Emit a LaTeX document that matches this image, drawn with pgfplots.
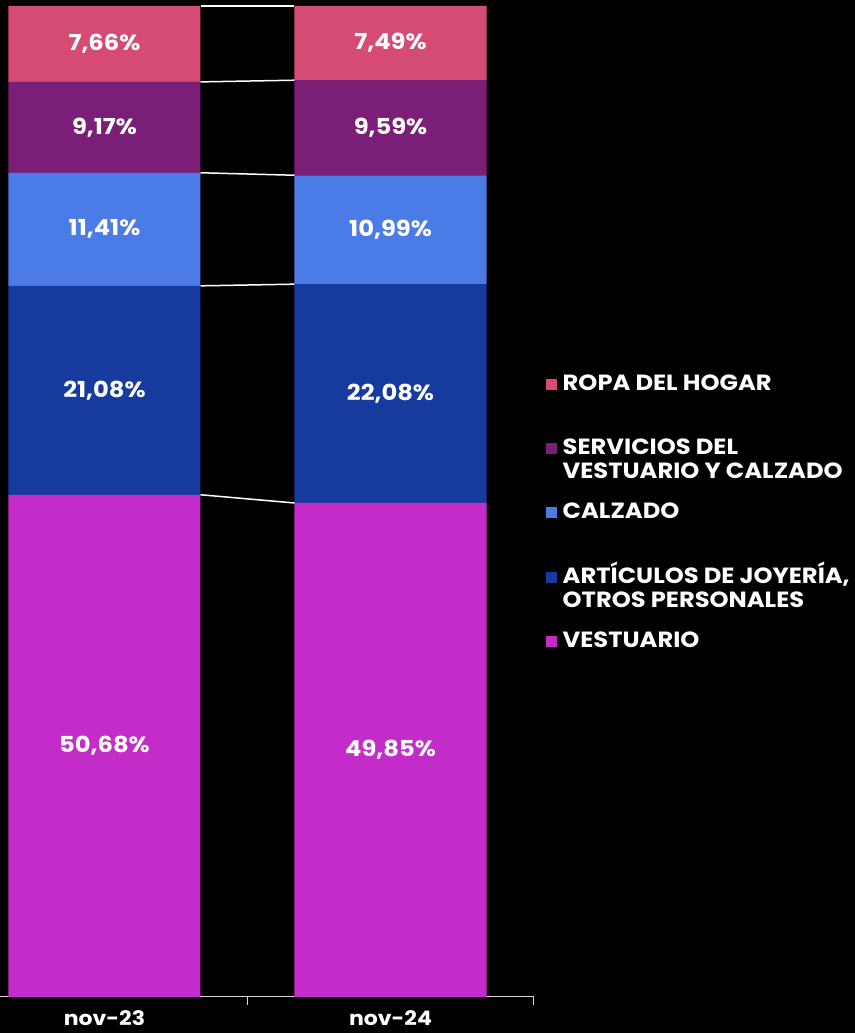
\documentclass[border=0pt]{standalone}
\usepackage{fontspec}
\setmainfont{Poppins}
\newfontfamily\wide{Poppins}[FakeStretch=1.1]
\usepackage{pgfplots}
\pgfplotsset{compat=1.18}
\definecolor{cRopa}{HTML}{D64B73}
\definecolor{cServ}{HTML}{7A1E78}
\definecolor{cCalz}{HTML}{4A7BE6}
\definecolor{cArt}{HTML}{163A9E}
\definecolor{cVest}{HTML}{C42CC9}
\definecolor{axgray}{HTML}{D9D9D9}
\newcommand{\lf}{\wide\bfseries\fontsize{22}{24}\selectfont}
\newcommand{\df}{\wide\bfseries\fontsize{22}{24}\selectfont}
\newcommand{\tf}{\wide\bfseries\fontsize{20}{22}\selectfont}
\begin{document}
\begin{tikzpicture}
\fill[black] (0pt,0pt) rectangle (854pt,1033pt);
\begin{axis}[at={(0pt,36pt)}, anchor=south west, scale only axis,
  width=533pt, height=991pt, xmin=-0.3636, xmax=1.5, ymin=0, ymax=100,
  ybar stacked, bar width=192pt,
  axis y line=none, axis x line*=bottom,
  axis line style={draw=axgray, line width=1pt, -},
  xtick={0,1}, xticklabels={nov-23,nov-24}, major tick length=0pt,
  extra x ticks={0.5,1.5}, extra x tick labels={},
  extra x tick style={major tick length=8pt, tick align=outside, tick style={axgray, line width=1pt}},
  xticklabel style={white, font=\tf, anchor=north, inner sep=0pt, yshift=-13pt},
  clip=false]
\addplot[fill=cVest, draw=none] coordinates {(0,50.68) (1,49.85)};
\addplot[fill=cArt, draw=none] coordinates {(0,21.08) (1,22.08)};
\addplot[fill=cCalz, draw=none] coordinates {(0,11.41) (1,10.99)};
\addplot[fill=cServ, draw=none] coordinates {(0,9.17) (1,9.59)};
\addplot[fill=cRopa, draw=none] coordinates {(0,7.66) (1,7.49)};
\end{axis}
\begin{axis}[at={(0pt,36pt)}, anchor=south west, scale only axis,
  width=533pt, height=991pt, xmin=-0.3636, xmax=1.5, ymin=0, ymax=100,
  axis lines=none, clip=false]
\addplot[white, line width=1.5pt] coordinates {(0.3357,50.68) (0.6643,49.85)};
\addplot[white, line width=1.5pt] coordinates {(0.3357,71.76) (0.6643,71.93)};
\addplot[white, line width=1.5pt] coordinates {(0.3357,83.17) (0.6643,82.92)};
\addplot[white, line width=1.5pt] coordinates {(0.3357,92.34) (0.6643,92.51)};
\addplot[white, line width=1.5pt] coordinates {(0.3357,100) (0.6643,100)};
\addplot[draw=none, mark=none, nodes near coords, point meta=explicit symbolic,
  nodes near coords style={white, font=\df, anchor=center, inner sep=0pt}]
  table[meta=label] {
x y label
0 25.34 50,68\%
0 61.22 21,08\%
0 77.465 11,41\%
0 87.755 9,17\%
0 96.17 7,66\%
1 24.925 49,85\%
1 60.89 22,08\%
1 77.425 10,99\%
1 87.715 9,59\%
1 96.255 7,49\%
};
\end{axis}
% legend
\fill[cRopa] (545pt,643pt) rectangle +(11pt,11pt);
\node[anchor=base west, inner sep=0pt, white, font=\lf] at (562pt,642pt) {ROPA DEL HOGAR};
\fill[cServ] (545pt,579pt) rectangle +(11pt,11pt);
\node[anchor=base west, inner sep=0pt, white, font=\lf] at (562pt,578pt) {SERVICIOS DEL};
\node[anchor=base west, inner sep=0pt, white, font=\lf] at (562pt,554pt) {VESTUARIO Y CALZADO};
\fill[cCalz] (545pt,515pt) rectangle +(11pt,11pt);
\node[anchor=base west, inner sep=0pt, white, font=\lf] at (562pt,514pt) {CALZADO};
\fill[cArt] (545pt,450pt) rectangle +(11pt,11pt);
\node[anchor=base west, inner sep=0pt, white, font=\lf] at (562pt,449pt) {ARTÍCULOS DE JOYERÍA,};
\node[anchor=base west, inner sep=0pt, white, font=\lf] at (562pt,425pt) {OTROS PERSONALES};
\fill[cVest] (545pt,386pt) rectangle +(11pt,11pt);
\node[anchor=base west, inner sep=0pt, white, font=\lf] at (562pt,385pt) {VESTUARIO};
\useasboundingbox (0pt,0pt) rectangle (854pt,1033pt);
\end{tikzpicture}
\end{document}
